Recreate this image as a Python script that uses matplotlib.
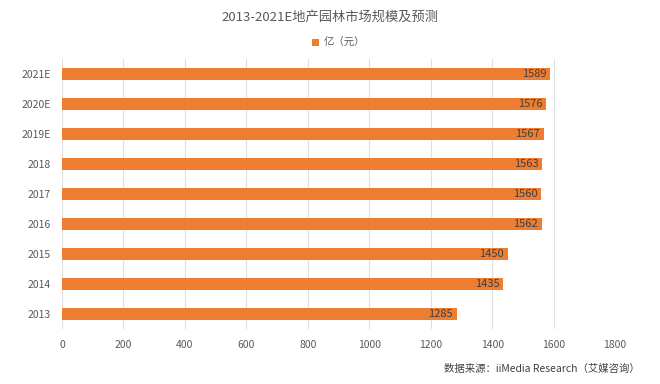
import matplotlib
matplotlib.use("Agg")
import matplotlib.pyplot as plt

plt.rcParams['font.family'] = ['Noto Sans CJK SC', 'DejaVu Sans']

# dados
anos = ['2013', '2014', '2015', '2016', '2017', '2018', '2019E', '2020E', '2021E']
valores = [1285, 1435, 1450, 1562, 1560, 1563, 1567, 1576, 1589]
xticks = [0, 200, 400, 600, 800, 1000, 1200, 1400, 1600, 1800]

laranja = '#ED7D31'

fig = plt.figure(figsize=(6.6, 3.84), dpi=100)
ax = fig.add_axes([0.094, 0.143, 0.838, 0.703])

y = range(len(anos))
ax.barh(y, valores, height=0.42, color=laranja, zorder=3, label='亿（元）')

for i, v in enumerate(valores):
    ax.text(v - 12, i, str(v), ha='right', va='center', fontsize=8, color='#404040', zorder=4)

ax.set_xlim(0, 1800)
ax.set_ylim(-0.5, len(anos) - 0.5)
ax.set_yticks(list(y))
ax.set_yticklabels(anos, fontsize=7.5, color='#595959')
ax.set_xticks(xticks)
ax.set_xticklabels([str(t) for t in xticks], fontsize=7.5, color='#595959')
ax.tick_params(axis='both', length=0, pad=8)
ax.grid(axis='x', color='#e0e0e0', linewidth=0.8, zorder=0)
for s in ax.spines.values():
    s.set_visible(False)

fig.text(0.5, 0.955, '2013-2021E地产园林市场规模及预测', ha='center', va='center',
         fontsize=9.5, color='#595959')
ax.legend(loc='center', bbox_to_anchor=(0.5, 1.059), frameon=False, fontsize=7.5,
          handlelength=0.7, handleheight=0.7, labelcolor='#595959', handletextpad=0.4)
fig.text(0.97, 0.04, '数据来源：iiMedia Research（艾媒咨询）', ha='right', va='center',
         fontsize=7.5, color='#404040')

plt.savefig('out.png', dpi=100)
